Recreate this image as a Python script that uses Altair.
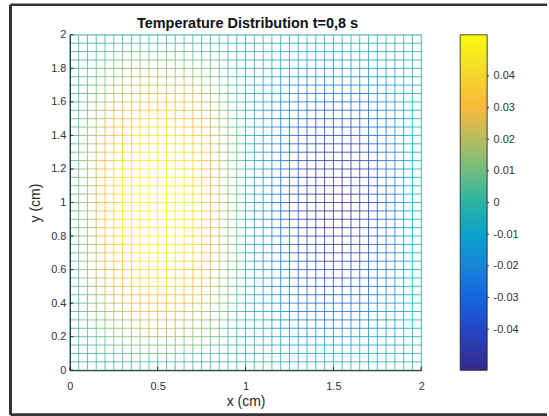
import numpy as np
import pandas as pd
import altair as alt

# mesh node coordinates (cm), same for x and y
nodes = [0.00, 0.05, 0.10, 0.15, 0.20, 0.25, 0.30, 0.35, 0.40, 0.45,
         0.50, 0.55, 0.60, 0.65, 0.70, 0.75, 0.80, 0.85, 0.90, 0.95,
         1.00, 1.05, 1.10, 1.15, 1.20, 1.25, 1.30, 1.35, 1.40, 1.45,
         1.50, 1.55, 1.60, 1.65, 1.70, 1.75, 1.80, 1.85, 1.90, 1.95, 2.00]

# relative temperature along x (hot lobe near 0.5, cold lobe near 1.5)
x_profile = [0.00, 0.16, 0.31, 0.45, 0.59, 0.71, 0.81, 0.89, 0.95, 0.99,
             1.00, 0.99, 0.95, 0.89, 0.81, 0.71, 0.59, 0.45, 0.31, 0.16,
             0.00, -0.16, -0.31, -0.45, -0.59, -0.71, -0.81, -0.89, -0.95, -0.99,
             -1.00, -0.99, -0.95, -0.89, -0.81, -0.71, -0.59, -0.45, -0.31, -0.16, 0.00]

# relative temperature along y (zero on both edges, maximum at mid-height)
y_profile = [0.00, 0.08, 0.16, 0.23, 0.31, 0.38, 0.45, 0.52, 0.59, 0.65,
             0.71, 0.76, 0.81, 0.85, 0.89, 0.92, 0.95, 0.97, 0.99, 1.00,
             1.00, 1.00, 0.99, 0.97, 0.95, 0.92, 0.89, 0.85, 0.81, 0.76,
             0.71, 0.65, 0.59, 0.52, 0.45, 0.38, 0.31, 0.23, 0.16, 0.08, 0.00]

peak = 0.053  # largest temperature value in the field

x_ticks = [0, 0.5, 1, 1.5, 2]
y_ticks = [0, 0.2, 0.4, 0.6, 0.8, 1, 1.2, 1.4, 1.6, 1.8, 2]
cbar_ticks = [-0.04, -0.03, -0.02, -0.01, 0, 0.01, 0.02, 0.03, 0.04]

title_text = "Temperature Distribution t=0,8 s"

# colormap stops (temperature -> colour), parula-like
cmap_values = [-0.053, -0.04, -0.03, -0.02, -0.01, 0.0, 0.01, 0.02, 0.03, 0.04, 0.053]
cmap_colors = ["#352a87", "#2346c8", "#1565e0", "#1884d6", "#0aa2cb", "#2bb3a2",
               "#70bd80", "#b6bb60", "#f8b93c", "#f5d52c", "#f9fb0e"]

W, H = 352, 336      # plot area
CB_W = 27            # colorbar width
DARK = "#262626"

# temperature at every mesh node: field[i, j] at (nodes[i], nodes[j])
field = peak * np.outer(np.array(x_profile), np.array(y_profile))

rows = []
n = len(nodes)
for j in range(n):            # horizontal mesh lines
    for i in range(n - 1):
        rows.append({"x": nodes[i], "x2": nodes[i + 1], "y": nodes[j], "y2": nodes[j],
                     "t": round(float(field[i, j] + field[i + 1, j]) / 2, 5)})
for i in range(n):            # vertical mesh lines
    for j in range(n - 1):
        rows.append({"x": nodes[i], "x2": nodes[i], "y": nodes[j], "y2": nodes[j + 1],
                     "t": round(float(field[i, j] + field[i, j + 1]) / 2, 5)})
mesh = pd.DataFrame(rows)

color_scale = alt.Scale(domain=cmap_values, range=cmap_colors, interpolate="rgb")
xy_scale = alt.Scale(domain=[0, 2], nice=False, zero=False)

axis_common = dict(
    grid=False, ticks=False, tickSize=0, domainColor=DARK, domainWidth=1,
    labelFontSize=11, labelColor="#333333", labelExpr="toString(datum.value)",
    labelOverlap=False, labelFlush=False,
    titleFontSize=14, titleFontWeight="normal", titleColor=DARK, zindex=1,
)
x_axis = alt.Axis(values=x_ticks, title="x (cm)", labelPadding=10, titlePadding=3, **axis_common)
y_axis = alt.Axis(values=y_ticks, title="y (cm)", labelPadding=4, titlePadding=8, **axis_common)

grid = alt.Chart(mesh).mark_rule(strokeWidth=1, opacity=0.8).encode(
    x=alt.X("x:Q", scale=xy_scale, axis=x_axis),
    x2="x2:Q",
    y=alt.Y("y:Q", scale=xy_scale, axis=y_axis),
    y2="y2:Q",
    color=alt.Color("t:Q", scale=color_scale, legend=None),
)

# short inward tick marks on the bottom and left axes
x_tick_marks = alt.Chart(pd.DataFrame({"x": x_ticks})).mark_rule(
    color=DARK, strokeWidth=1).encode(
    x=alt.X("x:Q", scale=xy_scale, axis=x_axis), y=alt.value(H), y2=alt.value(H - 3.5))
y_tick_marks = alt.Chart(pd.DataFrame({"y": y_ticks})).mark_rule(
    color=DARK, strokeWidth=1).encode(
    y=alt.Y("y:Q", scale=xy_scale, axis=y_axis), x=alt.value(0), x2=alt.value(3.5))

one = pd.DataFrame({"k": [0]})

# chart title, centred over the plot area
title = alt.Chart(pd.DataFrame({"label": [title_text]})).mark_text(
    fontSize=14.5, fontWeight="bold", color="#111111", baseline="alphabetic", align="center",
).encode(text="label:N", x=alt.value(W / 2 + 2), y=alt.value(-7))

# dark window frame around the figure
frame_left = alt.Chart(one).mark_rule(color="#333333", strokeWidth=3).encode(
    x=alt.value(-59.5), y=alt.value(-30), y2=alt.value(380.5))
frame_top = alt.Chart(one).mark_rule(color="#333333", strokeWidth=2.5).encode(
    y=alt.value(-30), x=alt.value(-59.5), x2=alt.value(478))
frame_bottom = alt.Chart(one).mark_rule(color="#333333", strokeWidth=3).encode(
    y=alt.value(380.5), x=alt.value(-59.5), x2=alt.value(478))

main = alt.layer(grid, x_tick_marks, y_tick_marks, title,
                 frame_left, frame_top, frame_bottom).properties(width=W, height=H)

# colorbar: one gradient-filled rect plus the value axis on its right
gradient = {
    "gradient": "linear", "x1": 0, "x2": 0, "y1": 1, "y2": 0,
    "stops": [{"offset": (v + peak) / (2 * peak), "color": c}
              for v, c in zip(cmap_values, cmap_colors)],
}
cbar_rect = alt.Chart(one).mark_rect(fill=gradient, stroke=DARK, strokeWidth=0.8).encode(
    x=alt.value(0), x2=alt.value(CB_W), y=alt.value(0), y2=alt.value(H))
cbar_axis = alt.Chart(pd.DataFrame({"v": cbar_ticks})).mark_rule(
    color=DARK, strokeWidth=1).encode(
    y=alt.Y("v:Q", scale=alt.Scale(domain=[-peak, peak], nice=False, zero=False),
            axis=alt.Axis(orient="right", values=cbar_ticks, title=None, labelPadding=6,
                          domain=False, ticks=False, tickSize=0, grid=False,
                          labelOverlap=False, labelFlush=False,
                          labelFontSize=11, labelColor="#333333",
                          labelExpr="toString(datum.value)")),
    x=alt.value(CB_W), x2=alt.value(CB_W + 2),
)
cbar = alt.layer(cbar_rect, cbar_axis).properties(width=CB_W, height=H)

chart = alt.hconcat(main, cbar, spacing=39, bounds="flush").properties(
    padding={"left": 8, "top": 2.5, "right": 0, "bottom": 0},
).configure_view(stroke=None).configure_axis(labelOverlap=False).configure(
    font="Liberation Sans")

chart.save("out.html", embed_options={"renderer": "svg", "actions": False})
